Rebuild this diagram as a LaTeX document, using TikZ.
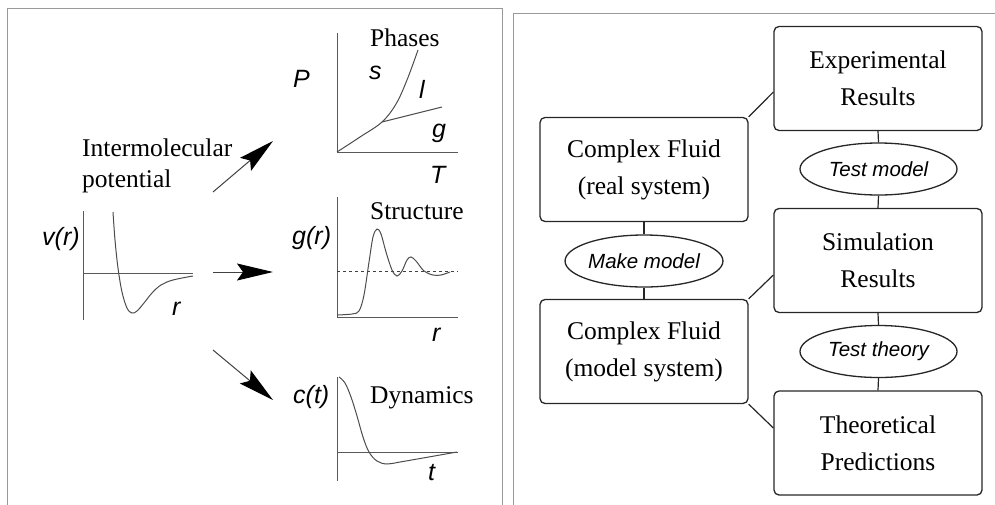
\documentclass[tikz,border=0pt]{standalone}
\usepackage{fontspec}
\setmainfont{Liberation Serif}
\setsansfont{Liberation Sans}
\usetikzlibrary{arrows.meta,shapes.geometric}
\begin{document}
\begin{tikzpicture}[x=1pt,y=-1pt,
  panel/.style={draw=black!40, line width=1pt},
  box/.style={draw=black!85, rounded corners=5pt, line width=1.3pt, minimum width=208pt, minimum height=104pt, align=center, inner sep=0pt, font=\fontsize{25.5}{37}\selectfont},
  oval/.style={draw=black!85, ellipse, line width=1.3pt, minimum width=157pt, minimum height=52pt, inner sep=0pt, font=\sffamily\itshape\fontsize{20.5}{24}\selectfont},
  lab/.style={font=\sffamily\itshape\fontsize{25}{30}\selectfont, inner sep=0pt, anchor=base west},
  ttl/.style={font=\fontsize{25.5}{30}\selectfont, inner sep=0pt, anchor=base west},
  ax/.style={draw=black!65, line width=1pt},
  crv/.style={draw=black!70, line width=1pt},
  arr/.style={draw=black!75, -{Stealth[length=36pt,width=17pt,inset=6pt,color=black]}, line width=1pt},
  link/.style={draw=black!85, line width=1.2pt}]
\useasboundingbox (0,0) rectangle (995,504);
% panels
\draw[panel] (7,515) -- (7,8) -- (502,8) -- (502,515);
\draw[panel] (513,515) -- (513,13) -- (1005,13);

% ---------- left panel ----------
\node[ttl] (im1) at (82,156) {Intermolecular};
\node[ttl] (im2) at (82,187) {potential};

% v(r) plot
\draw[ax] (83,211) -- (83,320);
\draw[ax] (83,273) -- (193,273);
\draw[crv] plot[smooth, tension=0.6] coordinates {(113,212) (115,240) (118,268) (122,292) (127,308) (132,313) (137,311) (144,303) (152,293) (161,285) (173,280) (193,276)};
\node[lab] (vr) at (42,245) {v(r)};
\node[lab] (rv) at (172,315) {r};

% arrows
\coordinate (a1s) at (213,192); \coordinate (a1e) at (273,141);
\coordinate (a2s) at (213,272); \coordinate (a2e) at (273,272);
\coordinate (a3s) at (213,350); \coordinate (a3e) at (273,400);
\draw[arr] (a1s) -- (a1e);
\draw[arr] (a2s) -- (a2e);
\draw[arr] (a3s) -- (a3e);

% Phases plot
\draw[ax] (337,33) -- (337,152) -- (458,152);
\draw[crv] plot[smooth, tension=0.6] coordinates {(337,152) (360,137) (382,122) (396,104) (407,80) (418,50)};
\draw[crv] (382,122) -- (442,107);
\node[ttl] (ph) at (370,46) {Phases};
\node[lab] (P) at (293,87) {P};
\node[lab] (s) at (369,79) {s};
\node[lab] (l) at (419,98) {l};
\node[lab] (g) at (432,137) {g};
\node[lab] (T) at (430,183) {T};

% Structure plot
\draw[ax] (337,197) -- (337,317) -- (458,317);
\draw[dashed, black!75, line width=0.9pt] (337,271) -- (458,271);
\draw[crv] plot[smooth, tension=0.55] coordinates {(337,315) (352,314) (359,311) (364,295) (369,262) (373,237) (377,229) (381,234) (386,252) (392,270) (397,276) (402,271) (407,260) (411,257) (416,261) (424,271) (433,275) (441,275) (450,272)};
\node[ttl] (st) at (370,219) {Structure};
\node[lab] (gr) at (292,244) {g(r)};
\node[lab] (rg) at (432,341) {r};

% Dynamics plot
\draw[ax] (337,377) -- (337,481);
\draw[ax] (337,452) -- (458,452);
\draw[crv] plot[smooth, tension=0.6] coordinates {(339,377) (345,383) (351,397) (357,416) (363,437) (369,452) (377,461) (387,464) (400,462) (423,458) (457,452)};
\node[ttl] (dy) at (370,403) {Dynamics};
\node[lab] (ct) at (293,403) {c(t)};
\node[lab] (tt) at (428,480) {t};

% ---------- right panel ----------
\node[box] (exp) at (878,78.5) {Experimental\\Results};
\node[box] (cfr) at (644,169.5) {Complex Fluid\\(real system)};
\node[box] (cfm) at (644,351.5) {Complex Fluid\\(model system)};
\node[box] (sim) at (878,260.5) {Simulation\\Results};
\node[box] (theo) at (878,443) {Theoretical\\Predictions};
\node[oval] (mk) at (644,261) {Make model};
\node[oval] (tm) at (878.5,169) {Test model};
\node[oval] (tth) at (878.5,351.5) {Test theory};

\draw[link] (cfr.south) -- (mk.north);
\draw[link] (mk.south) -- (cfm.north);
\draw[link] (exp.south) -- (tm.north);
\draw[link] (tm.south) -- (sim.north);
\draw[link] (sim.south) -- (tth.north);
\draw[link] (tth.south) -- (theo.north);
\draw[link] ([yshift=-13.5pt]exp.west) -- (cfr.north east);
\draw[link] ([yshift=-14.5pt]sim.west) -- (cfm.north east);
\draw[link] (cfm.south east) -- ([yshift=15pt]theo.west);
\end{tikzpicture}
\end{document}
